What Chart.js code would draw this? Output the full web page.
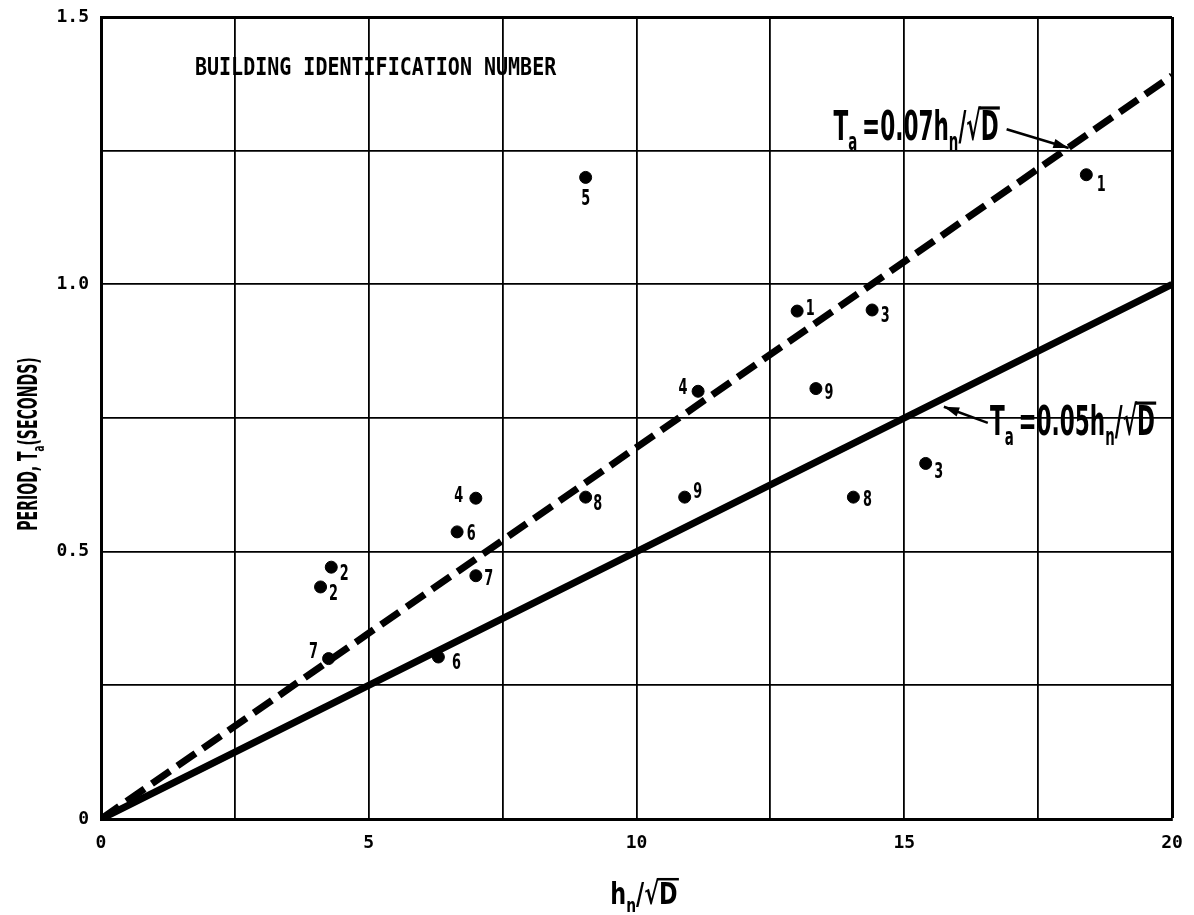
<!DOCTYPE html>
<html>
<head>
<meta charset="utf-8">
<script src="https://cdn.jsdelivr.net/npm/chart.js@4.4.0/dist/chart.umd.min.js"></script>
<style>
  body { margin: 0; background: #fff; }
  #wrap { width: 1194px; height: 915px; }
</style>
</head>
<body>
<div id="wrap"><canvas id="myChart"></canvas></div>
<script>
// building points
var bldgX = [9.05, 18.4, 13.0, 14.4, 11.15, 13.35, 15.4, 14.05, 10.9, 9.05, 7.0, 6.65, 7.0, 4.3, 4.1, 4.25, 6.3];
var bldgY = [1.20, 1.205, 0.95, 0.952, 0.80, 0.805, 0.665, 0.602, 0.602, 0.602, 0.60, 0.537, 0.455, 0.471, 0.434, 0.30, 0.303];
var bldgId = ['5', '1', '1', '3', '4', '9', '3', '8', '9', '8', '4', '6', '7', '2', '2', '7', '6'];

// the two period lines
var upperLineX = [0, 20];
var upperLineY = [0, 1.39];
var lowerLineX = [0, 20];
var lowerLineY = [0, 1.0];

var xTickLabels = ['0', '5', '10', '15', '20'];
var yTickLabels = ['0', '0.5', '1.0', '1.5'];

// where each building number sits relative to its dot (px)
var labelOffset = [
    [0, 22], [15, 11], [13, -2], [13, 6], [-15, -3], [13, 5], [13, 9], [14, 3],
    [13, -5], [12, 7], [-17, -2], [14, 2], [13, 4], [13, 7], [13, 7], [-15, -6], [18, 6]
];

function toPoints(xs, ys) {
    var pts = [];
    for (var i = 0; i < xs.length; i++) {
        pts.push({ x: xs[i], y: ys[i] });
    }
    return pts;
}

var condensed = '"DejaVu Sans Condensed", "DejaVu Sans", sans-serif';

// draws a row of text pieces, some as subscripts, squeezed sideways
function drawRuns(ctx, runs, x0, y0, size, squeeze) {
    ctx.save();
    ctx.translate(x0, y0);
    ctx.scale(squeeze, 1);
    ctx.fillStyle = '#000';
    ctx.strokeStyle = '#000';
    ctx.textBaseline = 'alphabetic';
    ctx.textAlign = 'left';
    var cx = 0;
    for (var i = 0; i < runs.length; i++) {
        var r = runs[i];
        var s = r.sub ? size * 0.62 : size;
        var dy = r.sub ? size * 0.25 : 0;
        ctx.font = 'bold ' + s + 'px ' + condensed;
        ctx.fillText(r.t, cx, dy);
        var w = ctx.measureText(r.t).width;
        if (r.bar) {
            ctx.lineWidth = size * 0.08;
            ctx.beginPath();
            ctx.moveTo(cx - size * 0.05, -size * 0.8);
            ctx.lineTo(cx + w + size * 0.05, -size * 0.8);
            ctx.stroke();
        }
        cx += w + (r.gap || 0);
    }
    ctx.restore();
    return cx * squeeze;
}

function runsWidth(ctx, runs, size, squeeze) {
    var w = 0;
    for (var i = 0; i < runs.length; i++) {
        var s = runs[i].sub ? size * 0.62 : size;
        ctx.font = 'bold ' + s + 'px ' + condensed;
        w += ctx.measureText(runs[i].t).width + (runs[i].gap || 0);
    }
    return w * squeeze;
}

function arrow(ctx, x1, y1, x2, y2) {
    var a = Math.atan2(y2 - y1, x2 - x1);
    ctx.save();
    ctx.strokeStyle = '#000';
    ctx.fillStyle = '#000';
    ctx.lineWidth = 2.5;
    ctx.beginPath();
    ctx.moveTo(x1, y1);
    ctx.lineTo(x2, y2);
    ctx.stroke();
    ctx.beginPath();
    ctx.moveTo(x2, y2);
    ctx.lineTo(x2 - 16 * Math.cos(a - 0.3), y2 - 16 * Math.sin(a - 0.3));
    ctx.lineTo(x2 - 16 * Math.cos(a + 0.3), y2 - 16 * Math.sin(a + 0.3));
    ctx.closePath();
    ctx.fill();
    ctx.restore();
}

var formulaUpper = [{ t: 'T' }, { t: 'a', sub: true, gap: 8 }, { t: '=0.07h' }, { t: 'n', sub: true }, { t: '/' }, { t: '√' }, { t: 'D', bar: true }];
var formulaLower = [{ t: 'T' }, { t: 'a', sub: true, gap: 8 }, { t: '=0.05h' }, { t: 'n', sub: true }, { t: '/' }, { t: '√' }, { t: 'D', bar: true }];

var annotate = {
    id: 'annotate',
    afterDatasetsDraw: function (chart) {
        var ctx = chart.ctx;
        var xs = chart.scales.x;
        var ys = chart.scales.y;
        var area = chart.chartArea;

        // building numbers
        ctx.save();
        for (var i = 0; i < bldgId.length; i++) {
            var px = xs.getPixelForValue(bldgX[i]) + labelOffset[i][0];
            var py = ys.getPixelForValue(bldgY[i]) + labelOffset[i][1];
            ctx.save();
            ctx.translate(px, py);
            ctx.scale(0.65, 1);
            ctx.font = 'bold 22px ' + condensed;
            ctx.fillStyle = '#000';
            ctx.textAlign = 'center';
            ctx.textBaseline = 'middle';
            ctx.fillText(bldgId[i], 0, 0);
            ctx.restore();
        }
        ctx.restore();

        // header text
        ctx.save();
        ctx.translate(area.left + 94, area.top + 58);
        ctx.scale(1, 1.2);
        ctx.font = 'bold 20px "DejaVu Sans Mono", monospace';
        ctx.fillStyle = '#000';
        ctx.textBaseline = 'alphabetic';
        ctx.fillText('BUILDING IDENTIFICATION NUMBER', 0, 0);
        ctx.restore();

        // formula labels and arrows
        var endUpper = drawRuns(ctx, formulaUpper, xs.getPixelForValue(13.68), ys.getPixelForValue(1.27), 40, 0.6);
        arrow(ctx, xs.getPixelForValue(13.68) + endUpper + 8, ys.getPixelForValue(1.29),
            xs.getPixelForValue(18.07), ys.getPixelForValue(1.255));
        drawRuns(ctx, formulaLower, xs.getPixelForValue(16.6), ys.getPixelForValue(0.718), 40, 0.6);
        arrow(ctx, xs.getPixelForValue(16.56), ys.getPixelForValue(0.741),
            xs.getPixelForValue(15.74), ys.getPixelForValue(0.771));

        // axis titles
        var xt = [{ t: 'h' }, { t: 'n', sub: true }, { t: '/' }, { t: '√' }, { t: 'D', bar: true }];
        var wx = runsWidth(ctx, xt, 31, 0.8);
        drawRuns(ctx, xt, 644 - wx / 2, 904, 31, 0.8);

        var yt = [{ t: 'PERIOD, T' }, { t: 'a', sub: true }, { t: '(SECONDS)' }];
        var wy = runsWidth(ctx, yt, 26, 0.6);
        ctx.save();
        ctx.translate(37, 444);
        ctx.rotate(-Math.PI / 2);
        drawRuns(ctx, yt, -wy / 2, 0, 26, 0.6);
        ctx.restore();
    }
};

var ctx = document.getElementById('myChart');
var chart = new Chart(ctx, {
    type: 'scatter',
    data: {
        datasets: [{
            label: 'Buildings',
            data: toPoints(bldgX, bldgY),
            backgroundColor: '#000',
            borderColor: '#000',
            pointRadius: 6,
            pointHoverRadius: 6
        }, {
            label: 'Ta = 0.07 hn / sqrt(D)',
            data: toPoints(upperLineX, upperLineY),
            showLine: true,
            borderColor: '#000',
            borderWidth: 7,
            borderDash: [22, 9],
            pointRadius: 0
        }, {
            label: 'Ta = 0.05 hn / sqrt(D)',
            data: toPoints(lowerLineX, lowerLineY),
            showLine: true,
            borderColor: '#000',
            borderWidth: 7,
            pointRadius: 0
        }]
    },
    options: {
        responsive: true,
        maintainAspectRatio: false,
        animation: false,
        events: [],
        layout: { padding: { left: 0, top: 17, right: 22, bottom: 0 } },
        plugins: {
            legend: { display: false },
            tooltip: { enabled: false }
        },
        scales: {
            x: {
                type: 'linear',
                min: 0,
                max: 20,
                afterFit: function (scale) {
                    scale.height = 96;
                    scale.paddingLeft = 0;
                    scale.paddingRight = 0;
                },
                border: { display: true, color: '#000', width: 3 },
                grid: {
                    color: '#000',
                    drawTicks: false,
                    lineWidth: function (c) { return c.tick && c.tick.value === 20 ? 3 : 1.8; }
                },
                ticks: {
                    stepSize: 2.5,
                    padding: 14,
                    color: '#000',
                    font: { family: '"DejaVu Sans Mono", monospace', size: 18, weight: 'bold' },
                    callback: function (v) {
                        var s = String(v);
                        return xTickLabels.indexOf(s) >= 0 ? s : '';
                    }
                }
            },
            y: {
                type: 'linear',
                min: 0,
                max: 1.5,
                afterFit: function (scale) {
                    scale.width = 101;
                    scale.paddingTop = 0;
                    scale.paddingBottom = 0;
                },
                border: { display: true, color: '#000', width: 3 },
                grid: {
                    color: '#000',
                    drawTicks: false,
                    lineWidth: function (c) { return c.tick && c.tick.value === 1.5 ? 3 : 1.8; }
                },
                ticks: {
                    stepSize: 0.25,
                    padding: 12,
                    color: '#000',
                    font: { family: '"DejaVu Sans Mono", monospace', size: 18, weight: 'bold' },
                    callback: function (v) {
                        var s = v === 0 ? '0' : v.toFixed(1);
                        return (Math.abs(v * 2 - Math.round(v * 2)) < 1e-9 && yTickLabels.indexOf(s) >= 0) ? s : '';
                    }
                }
            }
        }
    },
    plugins: [annotate]
});
</script>
</body>
</html>
